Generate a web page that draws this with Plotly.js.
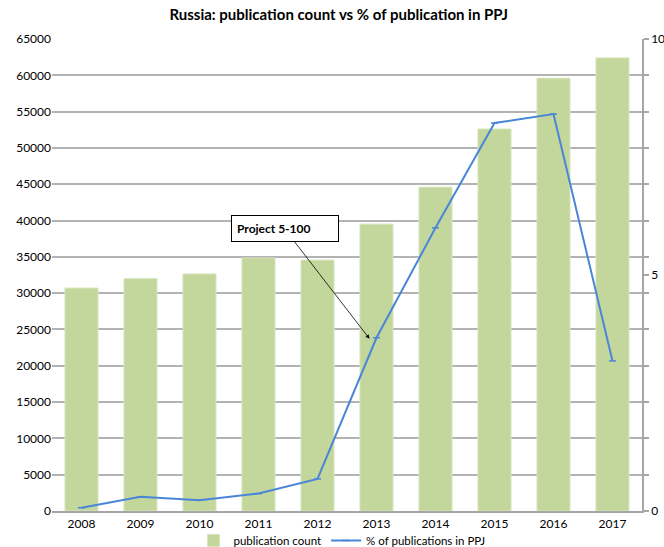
<!DOCTYPE html>
<html><head><meta charset="utf-8">
<script src="https://cdn.plot.ly/plotly-3.0.1.min.js"></script>
<style>body{margin:0;}#chart{width:664px;height:547px;}</style>
</head><body><div id="chart"></div>
<script>
const years = [2008, 2009, 2010, 2011, 2012, 2013, 2014, 2015, 2016, 2017];
const publicationCount = [30700, 32000, 32650, 34850, 34550, 39500, 44600, 52600, 59600, 62400];
const ppjPercent = [0.07, 0.30, 0.23, 0.37, 0.68, 3.67, 6.0, 8.22, 8.41, 3.18];
const leftTicks = [0,5000,10000,15000,20000,25000,30000,35000,40000,45000,50000,55000,60000,65000];
const rightTicks = [0,5,10];

const fontFam = 'Lato, sans-serif';

const traces = [
  {type:'bar', x: years, y: publicationCount, name:'publication count',
   marker:{color:'#c3d69b', line:{color:'#d7e4bd', width:1}}, yaxis:'y'},
  {type:'scatter', mode:'lines+markers', x: years, y: ppjPercent, name:'% of publications in PPJ',
   line:{color:'#4a86d8', width:2}, marker:{symbol:'line-ew', size:5, color:'#4a86d8', line:{color:'#4a86d8', width:1.5}}, yaxis:'y2'}
];

const layout = {
  width:664, height:547,
  margin:{l:52, r:22, t:39, b:36, autoexpand:false},
  paper_bgcolor:'#ffffff', plot_bgcolor:'#ffffff',
  font:{family:fontFam, size:12, color:'#000'},
  title:{text:'<b>Russia: publication count vs % of publication in PPJ</b>', font:{size:15, family:fontFam}, x:0.51, xanchor:'center', y:0.973, yanchor:'middle'},
  bargap:0.44,
  showlegend:true,
  legend:{orientation:'h', x:0.515, xanchor:'center', xref:'container', y:0.012, yref:'container', yanchor:'middle', font:{size:11.5}, itemwidth:30, bgcolor:'rgba(0,0,0,0)'},
  xaxis:{type:'linear', range:[2007.5, 2017.5], tickvals:years, ticktext:years.map(String), showgrid:false, zeroline:false, showline:true, linecolor:'#a6a6a6', linewidth:1.5, ticks:'', tickfont:{size:12}, ticklabelstandoff:1},
  yaxis:{range:[0,65000], tickvals:leftTicks, ticktext:leftTicks.map(String), showgrid:true, gridcolor:'#b3b3b3', gridwidth:1.5, zeroline:false, showline:false, ticks:'', tickfont:{size:12}},
  yaxis2:{overlaying:'y', side:'right', range:[0,10], tickvals:rightTicks, ticktext:rightTicks.map(String), showgrid:false, zeroline:false, showline:true, linecolor:'#a6a6a6', linewidth:1.5, ticks:'outside', ticklen:5, tickcolor:'#a6a6a6', tickwidth:1.5,
    minor:{tickmode:'linear', tick0:0, dtick:10/13, ticks:'outside', ticklen:5, tickcolor:'#a6a6a6', tickwidth:1.5, showgrid:false}, tickfont:{size:12}},
  annotations:[{
    x:2013, y:3.65, xref:'x', yref:'y2', xshift:-7,
    text:'<b>Project 5-100</b>', showarrow:true, arrowhead:2, arrowsize:1, arrowwidth:0.8, arrowcolor:'#000',
    ax:-85, ay:-110, axref:'pixel', ayref:'pixel',
    bgcolor:'#ffffff', bordercolor:'#000', borderwidth:1, borderpad:5, font:{size:12, family:fontFam}, width:96, align:'left'
  }]
};

Plotly.newPlot('chart', traces, layout, {displayModeBar:false});
</script>
</body></html>
